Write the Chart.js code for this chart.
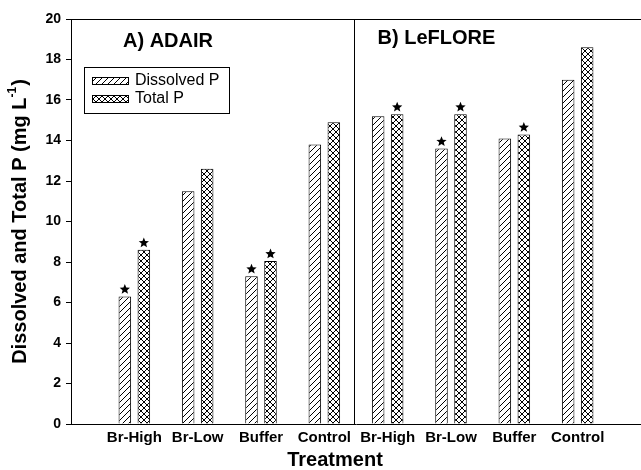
<!DOCTYPE html>
<html>
<head>
<meta charset="utf-8">
<script src="https://cdn.jsdelivr.net/npm/chart.js@4.4.1/dist/chart.umd.min.js"></script>
<style>
  html, body { margin: 0; padding: 0; background: #fff; }
  #wrap { width: 641px; height: 470px; position: relative; }
</style>
</head>
<body>
<div id="wrap"><canvas id="c" width="641" height="470"></canvas></div>
<script>
const categories = ['Br-High', 'Br-Low', 'Buffer', 'Control', 'Br-High', 'Br-Low', 'Buffer', 'Control'];
const dissolvedP = [6.3, 11.5, 7.3, 13.8, 15.2, 13.6, 14.1, 17.0];
const totalP = [8.6, 12.6, 8.05, 14.9, 15.3, 15.3, 14.3, 18.6];
const dissolvedSig = [true, false, true, false, false, true, false, false];
const totalSig = [true, false, true, false, true, true, true, false];
const panelLabels = ['A) ADAIR', 'B) LeFLORE'];
const seriesNames = ['Dissolved P', 'Total P'];
const yMin = 0, yMax = 20, yStep = 2;
const yTitle = 'Dissolved and Total P (mg L';
const yTitleSup = '-1';
const xTitle = 'Treatment';

const FONT = '"Liberation Sans", Arial, Helvetica, sans-serif';

function makePattern(kind) {
  const s = 6;
  const c = document.createElement('canvas');
  c.width = s; c.height = s;
  const g = c.getContext('2d');
  g.fillStyle = '#fff';
  g.fillRect(0, 0, s, s);
  g.strokeStyle = '#000';
  g.lineWidth = 1;
  g.beginPath();
  g.moveTo(-1, s + 1); g.lineTo(s + 1, -1);
  g.moveTo(-1, 1); g.lineTo(1, -1);
  g.moveTo(s - 1, s + 1); g.lineTo(s + 1, s - 1);
  if (kind === 'cross') {
    g.moveTo(-1, -1); g.lineTo(s + 1, s + 1);
    g.moveTo(s - 1, -1); g.lineTo(s + 1, 1);
    g.moveTo(-1, s - 1); g.lineTo(1, s + 1);
  }
  g.stroke();
  return g.createPattern(c, 'repeat');
}
const diagPattern = makePattern('diag');
const crossPattern = makePattern('cross');

const labels = [''].concat(categories, ['']);
const pad = arr => [null].concat(arr, [null]);

function drawStar(ctx, cx, cy, R, r) {
  ctx.beginPath();
  for (let i = 0; i < 10; i++) {
    const rad = i % 2 === 0 ? R : r;
    const a = -Math.PI / 2 + i * Math.PI / 5;
    const x = cx + rad * Math.cos(a), y = cy + rad * Math.sin(a);
    if (i === 0) ctx.moveTo(x, y); else ctx.lineTo(x, y);
  }
  ctx.closePath();
  ctx.fill();
}

const decorPlugin = {
  id: 'decor',
  afterDatasetsDraw(chart) {
    const ctx = chart.ctx;
    const a = chart.chartArea;
    const xs = chart.scales.x;
    ctx.save();
    ctx.strokeStyle = '#000';
    ctx.lineWidth = 1;
    ctx.beginPath();
    ctx.moveTo(a.left, a.top + 0.5);
    ctx.lineTo(a.right, a.top + 0.5);
    const dx = Math.round(xs.getPixelForValue(categories.length / 2 + 0.5)) - 1.5;
    ctx.moveTo(dx, a.top);
    ctx.lineTo(dx, a.bottom);
    ctx.stroke();

    ctx.fillStyle = '#000';
    const sigs = [dissolvedSig, totalSig];
    sigs.forEach((sig, di) => {
      const meta = chart.getDatasetMeta(di);
      sig.forEach((s, i) => {
        if (!s) return;
        const el = meta.data[i + 1];
        drawStar(ctx, el.x, el.y - 7, 5.4, 2.4);
      });
    });

    ctx.font = 'bold 20px ' + FONT;
    ctx.textBaseline = 'middle';
    ctx.textAlign = 'left';
    ctx.fillText(panelLabels[0], a.left + 52, a.top + 22);
    ctx.fillText(panelLabels[1], dx + 23, a.top + 19);

    const lx = a.left + 13, ly = a.top + 48, lw = 145, lh = 46;
    ctx.lineWidth = 1;
    ctx.strokeRect(lx + 0.5, ly + 0.5, lw, lh);
    const pats = [diagPattern, crossPattern];
    ctx.font = '16px ' + FONT;
    seriesNames.forEach((n, i) => {
      const sy = ly + 10 + i * 18;
      ctx.fillStyle = pats[i];
      ctx.fillRect(lx + 8, sy, 36, 7);
      ctx.strokeStyle = '#000';
      ctx.strokeRect(lx + 8.5, sy + 0.5, 36, 7);
      ctx.fillStyle = '#000';
      ctx.fillText(n, lx + 51, sy + 4);
    });

    ctx.save();
    const cy = (a.top + a.bottom) / 2;
    ctx.translate(20, cy);
    ctx.rotate(-Math.PI / 2);
    const big = 'bold 20px ' + FONT, small = 'bold 12px ' + FONT;
    ctx.font = big; const w1 = ctx.measureText(yTitle).width; const w3 = ctx.measureText(')').width;
    ctx.font = small; const w2 = ctx.measureText(yTitleSup).width + 1;
    const total = w1 + w2 + w3;
    let x = -total / 2;
    ctx.textAlign = 'left';
    ctx.textBaseline = 'middle';
    ctx.font = big; ctx.fillText(yTitle, x, 0); x += w1;
    ctx.font = small; ctx.fillText(yTitleSup, x, -7); x += w2;
    ctx.font = big; ctx.fillText(')', x, 0);
    ctx.restore();

    ctx.font = 'bold 20px ' + FONT;
    ctx.textAlign = 'center';
    ctx.textBaseline = 'middle';
    ctx.fillText(xTitle, 335, 460);
    ctx.restore();
  }
};

new Chart(document.getElementById('c'), {
  type: 'bar',
  data: {
    labels: labels,
    datasets: [
      { label: seriesNames[0], data: pad(dissolvedP), backgroundColor: diagPattern, borderColor: '#000', borderWidth: 1 },
      { label: seriesNames[1], data: pad(totalP), backgroundColor: crossPattern, borderColor: '#000', borderWidth: 1 }
    ]
  },
  options: {
    responsive: false,
    animation: false,
    events: [],
    devicePixelRatio: 1,
    categoryPercentage: 0.6,
    barPercentage: 0.66,
    layout: { padding: { top: 19, right: 0, left: 0, bottom: 0 } },
    plugins: { legend: { display: false }, tooltip: { enabled: false }, title: { display: false } },
    scales: {
      x: {
        type: 'category',
        offset: false,
        grid: { display: false, drawTicks: false },
        border: { display: true, color: '#000', width: 1 },
        ticks: { color: '#000', font: { family: FONT, size: 15, weight: 'bold' }, padding: 5, autoSkip: false, maxRotation: 0 },
        afterFit(s) { s.height = 46; s.paddingLeft = 0; s.paddingRight = 0; }
      },
      y: {
        min: yMin, max: yMax,
        grid: { drawOnChartArea: false, drawTicks: true, tickLength: 5, color: '#000' },
        border: { display: true, color: '#000', width: 1 },
        ticks: { stepSize: yStep, color: '#000', font: { family: FONT, size: 14, weight: 'bold' }, padding: 5 },
        afterFit(s) { s.width = 71; }
      }
    }
  },
  plugins: [decorPlugin]
});
</script>
</body>
</html>
